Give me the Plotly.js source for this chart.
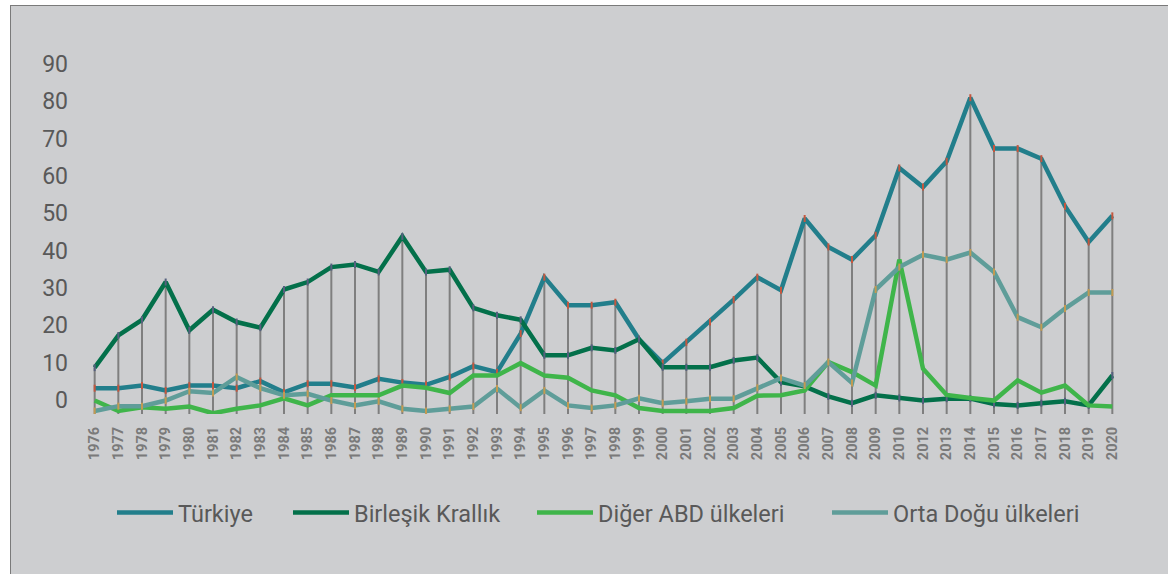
<!DOCTYPE html>
<html>
<head>
<meta charset="utf-8">
<script src="https://cdn.plot.ly/plotly-3.0.1.min.js"></script>
<style>
  html, body { margin: 0; padding: 0; background: #ffffff; }
  #wrap { position: relative; width: 1168px; height: 574px; overflow: hidden; }
  #chart { position: absolute; left: 0; top: 0; width: 1168px; height: 574px; }
  .mask-left { position: absolute; left: 0; top: 0; width: 10px; height: 574px; background: #ffffff; }
  .mask-top { position: absolute; left: 0; top: 0; width: 1168px; height: 5px; background: #ffffff; }
  .frame { position: absolute; left: 10px; top: 5px; width: 1200px; height: 700px;
           border-left: 1.5px solid #7a7a7a; border-top: 1.5px solid #7a7a7a; pointer-events: none; }
</style>
</head>
<body>
<div id="wrap">
  <div id="chart"></div>
  <div class="mask-left"></div>
  <div class="mask-top"></div>
  <div class="frame"></div>
</div>
<script>
// Years (2011 is absent in the source chart)
const years = ["1976","1977","1978","1979","1980","1981","1982","1983","1984","1985",
  "1986","1987","1988","1989","1990","1991","1992","1993","1994","1995",
  "1996","1997","1998","1999","2000","2001","2002","2003","2004","2005",
  "2006","2007","2008","2009","2010","2012","2013","2014","2015","2016",
  "2017","2018","2019","2020"];

const turkiye = [3.2,3.2,3.9,2.6,3.9,3.9,3.2,5.1,2.1,4.4,
  4.4,3.4,5.7,4.7,4.1,6.2,9.1,7.5,17.8,32.9,
  25.4,25.4,26.2,16.3,9.9,15.5,20.9,26.9,32.9,29.4,
  48.6,41.0,37.6,44.1,62.1,57.0,63.9,80.9,67.3,67.3,
  64.6,51.9,42.3,49.3];

const birlesikKrallik = [8.7,17.3,21.5,31.6,18.7,24.2,20.9,19.4,29.6,31.6,
  35.6,36.3,34.3,43.8,34.3,34.9,24.7,22.7,21.5,12.0,
  12.0,14.0,13.3,16.3,8.8,8.8,8.8,10.6,11.4,4.8,
  3.7,1.0,-0.8,1.3,0.6,-0.1,0.4,0.4,-1.0,-1.4,
  -0.8,-0.3,-1.4,6.6];

const digerAbd = [-0.1,-2.9,-1.9,-2.3,-1.7,-3.5,-2.3,-1.4,0.5,-1.4,
  1.3,1.3,1.3,3.9,3.3,1.9,6.6,6.6,9.9,6.6,
  6.0,2.6,1.3,-2.1,-2.9,-2.9,-2.9,-2.1,1.2,1.3,
  2.6,10.2,7.5,3.9,37.6,8.4,1.4,0.6,-0.1,5.3,
  2.0,3.9,-1.4,-1.7];

const ortaDogu = [-2.9,-1.6,-1.6,-0.1,2.4,1.9,6.2,3.2,1.3,1.7,
  -0.1,-1.4,-0.3,-2.3,-2.9,-2.3,-1.7,3.1,-2.0,2.6,
  -1.4,-2.1,-1.4,0.5,-0.8,-0.3,0.4,0.4,3.3,5.9,
  3.9,10.2,4.6,29.6,35.6,38.9,37.6,39.5,34.3,22.2,
  19.5,24.5,28.8,28.8];

const seriesNames = ["Türkiye","Birleşik Krallık","Diğer ABD ülkeleri","Orta Doğu ülkeleri"];
const yTickVals = [0,10,20,30,40,50,60,70,80,90];
const yTickText = ["0","10","20","30","40","50","60","70","80","90"];

const yMin = -3.7, yMax = 94.2;
const colors = ["#227E8B","#03704A","#3FB54A","#5F9D99"];
const pointMarks = ["#C4573F","#55607E",null,"#C29A52"];
const allSeries = [turkiye, birlesikKrallik, digerAbd, ortaDogu];

// drop lines from the highest value of each year down to the axis floor
const dropX = [], dropY = [];
years.forEach((yr, i) => {
  const top = Math.max(...allSeries.map(s => s[i]));
  dropX.push(yr, yr, null);
  dropY.push(top, yMin, null);
});

const FONT = "Roboto, 'Open Sans', sans-serif";

const traces = [{
  x: dropX, y: dropY, type: "scatter", mode: "lines",
  line: {color: "#7f7f7f", width: 2}, showlegend: false, hoverinfo: "skip"
}];

const legendIds = ["legend","legend2","legend3","legend4"];
allSeries.forEach((s, k) => {
  traces.push({
    x: years, y: s, type: "scatter", mode: "lines", name: seriesNames[k],
    line: {color: colors[k], width: 4.5}, legend: legendIds[k]
  });
  if (pointMarks[k]) {
    traces.push({
      x: years, y: s, type: "scatter", mode: "markers", showlegend: false, hoverinfo: "skip",
      marker: {symbol: "line-ns", size: 5, line: {color: pointMarks[k], width: 2}}
    });
  }
});

const legendBase = {
  orientation: "h", yanchor: "middle", xanchor: "left", y: -0.27,
  bgcolor: "rgba(0,0,0,0)", font: {family: FONT, size: 23.5, color: "#595959"},
  itemwidth: 56
};
const legendX = [112, 288, 532, 827].map(px => (px - 71) / 1065);

const layout = {
  width: 1168, height: 574,
  margin: {l: 71, r: 32, t: 48, b: 160},
  paper_bgcolor: "#CDCED0", plot_bgcolor: "#CDCED0",
  showlegend: true,
  xaxis: {
    type: "category", range: [-1, 44], showgrid: false, zeroline: false,
    showline: false, ticks: "", tickangle: -90,
    tickfont: {family: FONT, size: 14.5, color: "#7a7a7a", weight: "bold"},
    ticklabelstandoff: 9, fixedrange: true
  },
  yaxis: {
    range: [yMin, yMax], showgrid: false, zeroline: false, showline: false,
    ticks: "", tickmode: "array", tickvals: yTickVals, ticktext: yTickText,
    tickfont: {family: FONT, size: 23, color: "#595959"},
    ticklabelstandoff: 2, fixedrange: true
  },
  legend: Object.assign({}, legendBase, {x: legendX[0]}),
  legend2: Object.assign({}, legendBase, {x: legendX[1]}),
  legend3: Object.assign({}, legendBase, {x: legendX[2]}),
  legend4: Object.assign({}, legendBase, {x: legendX[3]})
};

Plotly.newPlot("chart", traces, layout, {displayModeBar: false, staticPlot: true});
</script>
</body>
</html>
